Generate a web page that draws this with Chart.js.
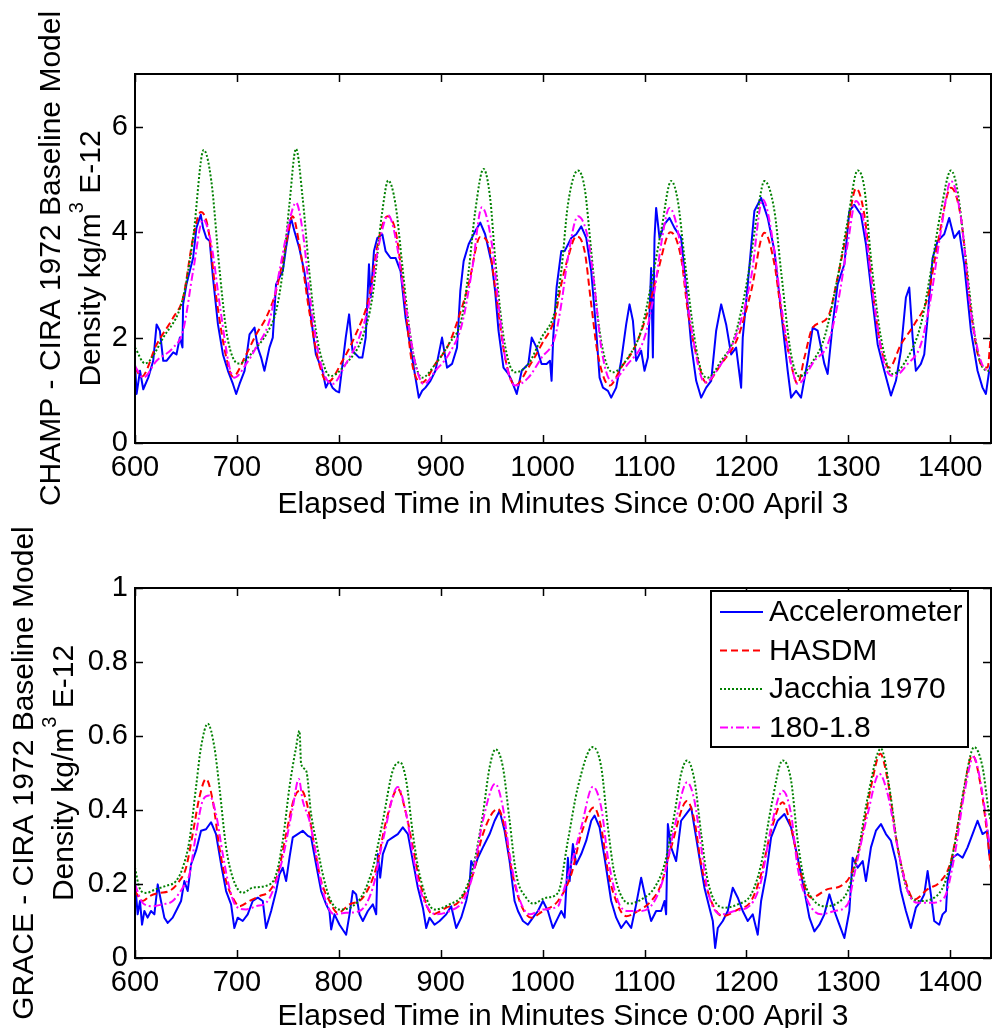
<!DOCTYPE html>
<html><head><meta charset="utf-8">
<script src="https://cdn.jsdelivr.net/npm/chart.js@4/dist/chart.umd.min.js"></script>
<style>
html,body{margin:0;padding:0;background:#fff;overflow:hidden;width:992px;height:1028px}
canvas{position:absolute;left:0}
#c1{top:0}
#c2{top:514px}
</style></head><body>
<canvas id="c1" width="992" height="540"></canvas>
<canvas id="c2" width="992" height="514"></canvas>
<script>
// ---------------- data (time in minutes, density) ----------------
const xTicks = [600, 700, 800, 900, 1000, 1100, 1200, 1300, 1400];
const champYTicks = [0, 2, 4, 6];
const graceYTicks = [0, 0.2, 0.4, 0.6, 0.8, 1];
const seriesLabels = ['Accelerometer', 'HASDM', 'Jacchia 1970', '180-1.8'];

const champAccelerometer = [[600,1.5],[601.6,0.93],[604.9,1.37],[608.1,1.02],[613,1.24],[617.9,1.56],[621.2,2.25],[624.4,2.13],[627.7,1.56],[630.9,1.56],[637.5,1.72],[640.7,1.68],[644,2.0],[646.6,1.81],[647.2,2.63],[650.5,3.01],[657,3.51],[660.3,4.08],[664.5,4.33],[666.8,4.08],[670,3.89],[673.3,3.83],[676.5,3.14],[681.4,2.25],[686.3,1.68],[691.2,1.37],[696.1,1.12],[699.3,0.93],[702.6,1.12],[707.5,1.37],[712.4,2.06],[717.3,2.19],[720.5,1.81],[723.8,1.62],[727,1.37],[731.9,1.81],[735.2,2.0],[738.4,3.01],[741.7,3.14],[745,3.26],[748.2,3.7],[753.1,4.27],[756.4,4.02],[761.2,3.7],[766.1,3.26],[771,2.63],[777.5,1.68],[784,1.37],[787.3,1.05],[790.6,1.18],[793.8,1.05],[797.1,0.99],[800.3,0.96],[806.8,2.0],[810.1,2.44],[813.4,1.75],[819.9,1.62],[823.1,1.62],[826.4,2.0],[829.6,3.39],[831.3,2.76],[834.5,3.64],[837.8,3.89],[842.7,3.96],[845.9,3.64],[850.8,3.51],[855.7,3.51],[860.6,3.26],[865.5,2.38],[870.4,1.81],[875.2,1.24],[878.5,0.86],[881.8,0.99],[885,1.05],[889.9,1.18],[894.8,1.37],[901.3,2.0],[906.2,1.43],[911.1,1.5],[916,1.81],[919.2,2.88],[922.5,3.45],[927.4,3.77],[933.9,4.02],[938.8,4.18],[943.6,3.96],[950.2,3.39],[953.4,2.88],[956.7,2.13],[961.6,1.43],[966.4,1.31],[969.7,1.18],[974.6,0.93],[979.5,1.37],[986,1.5],[989.3,2.0],[994.1,1.81],[999,1.5],[1003.9,1.5],[1007.2,1.56],[1008.8,1.18],[1010.4,2.0],[1013.7,2.95],[1018.3,3.64],[1021.6,3.64],[1028.1,3.89],[1033,3.96],[1037.9,4.11],[1042.8,3.89],[1047.7,3.26],[1052.6,2.13],[1055.9,1.24],[1059.2,1.05],[1064.1,0.99],[1067.3,0.86],[1072.2,1.05],[1077.1,1.56],[1082,2.25],[1085.3,2.63],[1088.6,2.32],[1091.8,1.56],[1096.7,1.75],[1100,1.37],[1103.3,1.62],[1106.5,3.32],[1108.2,1.62],[1109.8,3.89],[1111.4,4.46],[1114.7,3.89],[1119.6,4.15],[1124.5,4.27],[1129.4,4.08],[1135.9,3.89],[1140.8,2.95],[1145.8,1.87],[1150.7,1.18],[1155.6,0.86],[1160.5,1.05],[1165.4,1.18],[1170.3,2.13],[1175.2,2.63],[1180.1,2.25],[1185,1.68],[1189.9,1.81],[1194.8,1.05],[1196.4,2.0],[1201.3,3.01],[1207.8,4.4],[1214.4,4.65],[1220.9,4.27],[1227.5,3.64],[1234,2.5],[1240.5,1.37],[1243.8,0.86],[1248.7,0.99],[1253.6,0.86],[1260.1,1.56],[1265,2.19],[1269.9,2.13],[1276.5,1.5],[1279.7,1.31],[1284.6,2.25],[1289.5,3.01],[1296.1,3.39],[1301,4.4],[1305.9,4.52],[1312.4,4.33],[1317.3,3.77],[1322.2,2.95],[1328.8,1.87],[1335.3,1.37],[1341.8,0.9],[1346.7,1.18],[1351.6,1.75],[1356.5,2.76],[1359.8,2.95],[1363.1,2.0],[1366.3,1.37],[1371.2,1.5],[1374.5,1.68],[1377.8,2.38],[1382.7,3.51],[1387.6,3.83],[1394.1,3.96],[1399,4.27],[1403.9,3.89],[1408.8,4.02],[1413.7,3.39],[1420.3,2.13],[1426.8,1.37],[1431.7,1.05],[1435,0.93],[1438.2,1.37],[1440,1.5]];

const champHASDM = [[600,1.43],[606.5,1.26],[621.2,1.87],[637.5,2.38],[647.2,2.76],[657,3.89],[664.5,4.38],[671.7,4.08],[679.8,2.76],[689.6,1.62],[696.1,1.26],[709.1,1.68],[718.9,2.06],[728.7,2.38],[738.4,2.88],[748.2,3.77],[754.7,4.3],[761.2,3.77],[771,2.5],[780.8,1.5],[788.9,1.15],[803.6,1.56],[816.6,2.06],[829.6,2.76],[839.4,3.89],[847.6,4.3],[855.7,4.02],[862.2,3.14],[872,1.5],[881.8,1.15],[894.8,1.5],[907.8,1.87],[917.6,2.38],[927.4,3.01],[938.8,3.91],[946.9,3.77],[953.4,2.95],[963.2,1.62],[973,1.09],[986,1.43],[999,1.87],[1012,2.38],[1018.3,3.01],[1024.8,3.51],[1033,3.92],[1041.2,3.64],[1047.7,2.63],[1054.2,1.68],[1065.7,1.09],[1077.1,1.43],[1090.2,1.81],[1103.3,2.5],[1113.1,3.26],[1125.5,4.0],[1135.9,3.51],[1142.5,2.5],[1152.3,1.56],[1160.5,1.15],[1175.2,1.5],[1191.5,2.0],[1204.6,2.88],[1217.6,3.99],[1227.5,3.39],[1234,2.5],[1243.8,1.5],[1250.3,1.12],[1256.9,1.62],[1265,2.19],[1279.7,2.38],[1289.5,3.14],[1299.3,4.08],[1307.5,4.83],[1315.7,4.33],[1325.5,2.63],[1332,1.81],[1340.2,1.43],[1351.6,1.87],[1364.7,2.25],[1377.8,2.76],[1387.6,3.77],[1400.7,4.84],[1410.5,4.27],[1420.3,2.5],[1430,1.5],[1436.6,1.43],[1440,2.1]];

const champJacchia = [[600,1.81],[609.8,1.51],[627.7,2.0],[647.2,2.76],[657,3.89],[667.4,5.56],[674.9,4.97],[683.1,3.26],[689.6,2.13],[697.7,1.56],[702.6,1.51],[718.9,1.81],[728.7,2.06],[738.4,2.5],[745,3.26],[751.5,4.52],[758,5.58],[764.5,4.65],[771,3.26],[777.5,2.13],[787.3,1.37],[792.2,1.27],[806.8,1.5],[823.1,2.0],[832.9,2.76],[842.7,4.4],[848.5,4.98],[855.7,4.52],[862.2,3.39],[868.7,2.25],[875.2,1.5],[881.8,1.24],[894.8,1.5],[907.8,1.87],[920.8,2.38],[927.4,3.26],[933.9,4.4],[942,5.2],[948.5,4.65],[953.4,3.51],[960,2.25],[966.4,1.56],[973,1.34],[986,1.5],[999,2.0],[1012,2.5],[1018.3,3.26],[1024.8,4.52],[1034.6,5.17],[1041.2,4.84],[1047.7,3.64],[1054.2,2.38],[1060.8,1.62],[1069,1.34],[1083.7,1.62],[1096.7,2.13],[1106.5,3.01],[1116.3,4.02],[1126.1,4.97],[1132.7,4.59],[1139.2,3.51],[1149,2.0],[1155.6,1.37],[1162.1,1.24],[1175.2,1.56],[1188.2,2.0],[1201.3,3.14],[1211.1,4.4],[1217.6,4.97],[1227.5,4.4],[1234,3.26],[1243.8,1.68],[1252,1.26],[1263.4,1.5],[1276.5,2.0],[1289.5,3.14],[1299.3,4.21],[1309.2,5.17],[1315.7,4.84],[1322.2,3.51],[1332,2.0],[1343.5,1.31],[1358.2,1.62],[1371.2,2.25],[1381,3.26],[1390.8,4.4],[1400.7,5.17],[1407.2,4.78],[1413.7,3.77],[1423.5,2.13],[1430,1.5],[1438.2,1.37],[1440,1.38]];

const champModel180 = [[600,1.46],[608.1,1.24],[621.2,1.56],[637.5,1.81],[647.2,2.13],[657,3.26],[666.8,4.24],[674.9,3.77],[683.1,2.63],[692.8,1.43],[697.7,1.24],[709.1,1.5],[718.9,1.81],[731.9,2.32],[741.7,3.26],[751.5,4.21],[758,4.56],[764.5,4.02],[772.6,2.63],[782.4,1.5],[793.8,1.12],[806.8,1.5],[819.9,2.0],[829.6,2.63],[839.4,3.77],[848.5,4.32],[855.7,3.89],[865.5,2.63],[875.2,1.5],[883.4,1.12],[894.8,1.37],[907.8,1.68],[920.8,2.25],[930.6,3.26],[940.4,4.47],[950.2,3.77],[956.7,2.63],[963.2,1.62],[973,1.09],[986,1.24],[999,1.62],[1012,2.0],[1018.3,2.63],[1024.8,3.51],[1034.6,4.3],[1044.4,3.89],[1051,2.95],[1057.5,1.81],[1067.3,1.18],[1083.7,1.5],[1100,2.0],[1109.8,2.88],[1116.3,3.77],[1124.5,4.46],[1132.7,4.02],[1142.5,2.63],[1152.3,1.5],[1158.8,1.15],[1175.2,1.5],[1191.5,2.13],[1204.6,3.14],[1216,4.62],[1227.5,3.64],[1234,2.63],[1243.8,1.5],[1250.3,1.12],[1266.7,1.56],[1279.7,1.87],[1289.5,2.63],[1299.3,3.77],[1307.5,4.59],[1315.7,4.15],[1325.5,2.63],[1335.3,1.5],[1345.1,1.27],[1358.2,1.5],[1371.2,1.87],[1381,2.76],[1390.8,4.02],[1400.7,4.97],[1410.5,4.27],[1420.3,2.5],[1430,1.56],[1438.2,1.37],[1440,1.4]];

const graceAccelerometer = [[600,0.208],[602.6,0.118],[604.9,0.154],[606.9,0.09],[609.2,0.127],[612.4,0.109],[615.7,0.127],[619,0.118],[622.3,0.199],[625.5,0.154],[628.8,0.109],[632.1,0.095],[637,0.109],[641.9,0.136],[645.2,0.154],[648.4,0.208],[651.7,0.181],[655,0.253],[659.9,0.29],[664.8,0.344],[669.7,0.348],[674.6,0.367],[679.5,0.335],[684.5,0.253],[689.4,0.181],[694.3,0.145],[697.5,0.081],[700.8,0.109],[705.7,0.1],[710.6,0.118],[715.5,0.154],[720.5,0.163],[725.4,0.154],[728.6,0.081],[733.6,0.127],[738.5,0.181],[741.7,0.226],[745,0.244],[748.3,0.208],[751.6,0.271],[754.8,0.326],[759.7,0.335],[764.6,0.344],[769.6,0.33],[772.8,0.326],[777.7,0.253],[782.7,0.181],[787.6,0.145],[790.8,0.127],[792.5,0.077],[795.7,0.118],[800.7,0.09],[807.2,0.063],[810.5,0.118],[813.7,0.181],[817,0.172],[820.3,0.118],[823.6,0.1],[828.5,0.127],[833.4,0.145],[836.7,0.118],[838.3,0.281],[840.6,0.217],[843.2,0.281],[848.1,0.317],[853,0.326],[857.9,0.335],[862.8,0.353],[867.8,0.335],[872.7,0.262],[877.6,0.19],[882.5,0.136],[885.8,0.081],[889,0.109],[893.9,0.09],[898.9,0.1],[905.4,0.118],[910.3,0.14],[915.2,0.081],[920.1,0.109],[925,0.154],[928.3,0.199],[929.9,0.262],[933.2,0.244],[936.5,0.271],[941.4,0.299],[948,0.335],[952.9,0.371],[957.8,0.398],[962.7,0.344],[967.6,0.262],[972.5,0.154],[975.8,0.127],[980.7,0.1],[985.6,0.09],[990.5,0.109],[995.4,0.127],[1000.3,0.154],[1005.2,0.127],[1010.1,0.081],[1015.1,0.109],[1018.3,0.127],[1021.6,0.109],[1024.8,0.271],[1026.5,0.208],[1029.7,0.308],[1033,0.253],[1037.9,0.281],[1042.8,0.317],[1047.7,0.371],[1051,0.385],[1055.9,0.353],[1060.8,0.271],[1067.3,0.154],[1072.2,0.109],[1077.1,0.081],[1082,0.1],[1086.9,0.081],[1091.8,0.145],[1096.7,0.217],[1101.6,0.154],[1106.5,0.1],[1111.4,0.127],[1116.3,0.127],[1119.6,0.154],[1121.2,0.118],[1122.9,0.362],[1126.1,0.299],[1131,0.262],[1135.9,0.371],[1140.8,0.389],[1145.8,0.407],[1149,0.353],[1153.9,0.271],[1158.8,0.19],[1163.7,0.136],[1167,0.1],[1169.3,0.027],[1171.9,0.081],[1176.8,0.1],[1181.7,0.127],[1186.6,0.19],[1191.5,0.163],[1196.4,0.127],[1201.3,0.1],[1206.2,0.118],[1211.1,0.063],[1214.4,0.154],[1219.3,0.226],[1224.2,0.326],[1230.7,0.371],[1237.3,0.389],[1243.8,0.353],[1250.3,0.271],[1256.9,0.181],[1261.8,0.109],[1266.7,0.072],[1271.6,0.09],[1276.5,0.118],[1281.4,0.172],[1286.3,0.127],[1291.2,0.09],[1296.1,0.054],[1301,0.127],[1304.2,0.271],[1309.2,0.244],[1314.1,0.262],[1317.3,0.208],[1322.2,0.299],[1327.1,0.344],[1332,0.362],[1336.9,0.335],[1341.8,0.317],[1346.7,0.262],[1351.6,0.181],[1356.5,0.127],[1361.4,0.081],[1366.3,0.136],[1371.2,0.154],[1374.5,0.172],[1377.8,0.235],[1381,0.172],[1384.3,0.1],[1389.2,0.09],[1392.5,0.118],[1395.8,0.127],[1397.4,0.208],[1402.3,0.271],[1407.2,0.281],[1412.1,0.271],[1417,0.299],[1421.9,0.335],[1426.8,0.371],[1431.7,0.335],[1436.6,0.344],[1438.2,0.281],[1440,0.271]];

const graceHASDM = [[600,0.181],[607.5,0.154],[614.1,0.167],[623.9,0.176],[633.7,0.181],[643.5,0.208],[650.1,0.244],[656.6,0.335],[663.2,0.434],[669.7,0.484],[676.3,0.425],[682.8,0.299],[689.4,0.208],[695.9,0.163],[702.5,0.14],[712.3,0.154],[722.1,0.167],[731.9,0.181],[740.1,0.226],[748.3,0.335],[756.5,0.434],[763,0.454],[769.6,0.407],[776.1,0.299],[782.7,0.208],[790.8,0.154],[799,0.122],[810.5,0.145],[823.6,0.163],[836.7,0.244],[846.5,0.371],[857.9,0.457],[866.1,0.389],[872.7,0.299],[879.2,0.208],[892.3,0.118],[905.4,0.136],[918.5,0.154],[931.6,0.226],[941.4,0.335],[956.1,0.403],[962.7,0.353],[969.2,0.244],[977.4,0.154],[988.9,0.109],[1000.3,0.127],[1015.1,0.154],[1028.1,0.226],[1037.9,0.335],[1050.3,0.407],[1057.5,0.353],[1064.1,0.235],[1072.2,0.154],[1082,0.113],[1093.5,0.127],[1106.5,0.154],[1116.3,0.199],[1126.1,0.299],[1141.8,0.424],[1149,0.371],[1155.6,0.253],[1165.4,0.154],[1176.8,0.113],[1191.5,0.131],[1204.6,0.154],[1214.4,0.226],[1224.2,0.344],[1235.6,0.421],[1243.8,0.353],[1253.6,0.226],[1263.4,0.163],[1279.7,0.186],[1292.8,0.195],[1302.6,0.226],[1312.4,0.317],[1322.2,0.462],[1331.4,0.552],[1338.6,0.48],[1348.4,0.299],[1358.2,0.19],[1364.7,0.158],[1377.8,0.186],[1390.8,0.208],[1400.7,0.262],[1410.5,0.407],[1421.9,0.548],[1430.1,0.462],[1436.6,0.326],[1440,0.235]];

const graceJacchia = [[600,0.244],[604.3,0.19],[610.8,0.176],[620.6,0.186],[630.4,0.195],[640.3,0.208],[646.8,0.244],[653.4,0.317],[659.9,0.462],[664.8,0.57],[671.4,0.633],[677.9,0.57],[682.8,0.462],[689.4,0.299],[695.9,0.217],[705.7,0.176],[715.5,0.19],[728.6,0.195],[738.5,0.226],[745,0.317],[751.6,0.462],[758.1,0.57],[761.4,0.614],[763,0.525],[767.9,0.507],[772.8,0.389],[777.7,0.317],[784.3,0.226],[790.8,0.163],[800.7,0.131],[813.7,0.14],[823.6,0.172],[833.4,0.244],[843.2,0.371],[853,0.507],[860.2,0.529],[866.1,0.48],[872.7,0.335],[879.2,0.226],[893.9,0.131],[908.7,0.145],[921.8,0.172],[931.6,0.244],[941.4,0.389],[948,0.516],[953.8,0.564],[961,0.516],[967.6,0.371],[974.1,0.226],[983.9,0.163],[990.5,0.147],[1003.6,0.163],[1015.1,0.176],[1024.8,0.317],[1034.6,0.462],[1049.3,0.57],[1057.5,0.516],[1064.1,0.353],[1070.6,0.226],[1085.3,0.147],[1096.7,0.158],[1109.8,0.19],[1119.6,0.253],[1129.4,0.389],[1135.9,0.498],[1141.8,0.534],[1149,0.48],[1155.6,0.335],[1162.1,0.208],[1178.4,0.136],[1191.5,0.145],[1204.6,0.172],[1214.4,0.253],[1224.2,0.407],[1235.6,0.534],[1243.8,0.48],[1250.3,0.317],[1256.9,0.208],[1266.7,0.154],[1276.5,0.14],[1289.5,0.149],[1299.3,0.181],[1309.2,0.281],[1319,0.434],[1332,0.566],[1340.2,0.462],[1348.4,0.299],[1358.2,0.181],[1369.6,0.154],[1384.3,0.163],[1394.1,0.199],[1403.9,0.299],[1413.7,0.462],[1423.5,0.57],[1431.7,0.516],[1438.2,0.389],[1440,0.37]];

const graceModel180 = [[600,0.199],[607.5,0.149],[617.3,0.14],[627.2,0.145],[637,0.154],[646.8,0.19],[653.4,0.226],[659.9,0.335],[666.4,0.425],[673,0.439],[679.5,0.389],[686.1,0.281],[692.6,0.19],[699.2,0.14],[709,0.131],[718.8,0.14],[728.6,0.149],[735.2,0.181],[745,0.271],[754.8,0.407],[760.7,0.484],[764.6,0.425],[771.2,0.371],[777.7,0.281],[784.3,0.181],[795.7,0.118],[807.2,0.122],[820.3,0.127],[833.4,0.19],[843.2,0.317],[857.9,0.462],[866.1,0.389],[872.7,0.281],[879.2,0.19],[895.6,0.118],[908.7,0.127],[921.8,0.154],[931.6,0.226],[941.4,0.371],[953.5,0.471],[961,0.407],[967.6,0.281],[975.8,0.172],[987.2,0.118],[1000.3,0.131],[1015.1,0.14],[1018.3,0.163],[1028.1,0.253],[1037.9,0.353],[1049.3,0.463],[1057.5,0.407],[1064.1,0.271],[1073.9,0.154],[1083.7,0.127],[1096.7,0.127],[1109.8,0.154],[1119.6,0.226],[1129.4,0.353],[1141.8,0.475],[1149,0.425],[1155.6,0.299],[1162.1,0.181],[1175.2,0.118],[1188.2,0.127],[1204.6,0.145],[1214.4,0.208],[1224.2,0.353],[1235.6,0.452],[1243.8,0.389],[1250.3,0.244],[1260.1,0.154],[1273.2,0.118],[1286.3,0.127],[1299.3,0.145],[1305.9,0.226],[1319,0.389],[1330.4,0.498],[1338.6,0.443],[1348.4,0.299],[1358.2,0.181],[1368,0.149],[1381,0.149],[1394.1,0.163],[1403.9,0.271],[1413.7,0.443],[1422.9,0.543],[1431.7,0.443],[1438.2,0.317],[1440,0.3]];

// ---------------- styling ----------------
const FONT = '"Liberation Sans", Arial, Helvetica, sans-serif';
const styles = [
  {color:'#0000FF', dash:[], smooth:false, order:3},
  {color:'#FF0000', dash:[7,4], smooth:true, order:2},
  {color:'#008000', dash:[2,2], smooth:true, order:1},
  {color:'#FF00FF', dash:[8,3,2,3], smooth:true, order:0}
];

const matlabPlugin = {
  id: 'matlab',
  afterDatasetsDraw(chart, args, o) {
    const ctx = chart.ctx, a = chart.chartArea, xs = chart.scales.x, ys = chart.scales.y;
    ctx.save();
    ctx.setLineDash([]);
    ctx.strokeStyle = '#000';
    ctx.lineWidth = 1.5;
    const tl = 8;
    ctx.beginPath();
    xs.ticks.forEach(t => {
      const px = Math.round(xs.getPixelForValue(t.value)) + 0.5;
      ctx.moveTo(px, a.bottom); ctx.lineTo(px, a.bottom - tl);
      ctx.moveTo(px, a.top); ctx.lineTo(px, a.top + tl);
    });
    ys.ticks.forEach(t => {
      const py = Math.round(ys.getPixelForValue(t.value)) + 0.5;
      ctx.moveTo(a.left, py); ctx.lineTo(a.left + tl, py);
      ctx.moveTo(a.right, py); ctx.lineTo(a.right - tl, py);
    });
    ctx.stroke();
    ctx.lineWidth = 2;
    ctx.strokeRect(a.left, a.top, a.right - a.left, a.bottom - a.top);

    ctx.fillStyle = '#000';
    // x title
    ctx.font = '30px ' + FONT;
    ctx.textAlign = 'center';
    ctx.textBaseline = 'alphabetic';
    ctx.fillText(o.xTitle, (a.left + a.right) / 2, a.bottom + o.xTitleOffset);

    // y title (two lines, rotated)
    const cy = (a.top + a.bottom) / 2;
    ctx.save();
    ctx.translate(o.yTitleX1, cy); ctx.rotate(-Math.PI / 2);
    ctx.fillText(o.yTitle1, 0, 0);
    ctx.restore();
    const mainF = '30px ' + FONT, supF = '20px ' + FONT;
    ctx.font = mainF;
    const wA = ctx.measureText(o.yTitle2a).width, wC = ctx.measureText(o.yTitle2c).width;
    ctx.font = supF;
    const wB = ctx.measureText(o.yTitle2b).width;
    ctx.save();
    ctx.translate(o.yTitleX2, cy); ctx.rotate(-Math.PI / 2);
    ctx.textAlign = 'left';
    let sx = -(wA + wB + wC) / 2;
    ctx.font = mainF; ctx.fillText(o.yTitle2a, sx, 0); sx += wA;
    ctx.font = supF; ctx.fillText(o.yTitle2b, sx, -17); sx += wB;
    ctx.font = mainF; ctx.fillText(o.yTitle2c, sx, 0);
    ctx.restore();

    // legend
    if (o.legend) {
      const bw = 257, bh = 156;
      const bx = a.right - 23 - bw, by = a.top + 3;
      ctx.fillStyle = '#fff';
      ctx.fillRect(bx, by, bw, bh);
      ctx.strokeStyle = '#000'; ctx.lineWidth = 2;
      ctx.strokeRect(bx, by, bw, bh);
      const rows = [21, 59.5, 98, 136.5];
      chart.data.datasets.forEach((d, i) => {
        const yy = by + rows[i];
        ctx.strokeStyle = d.borderColor; ctx.lineWidth = 2;
        ctx.setLineDash(d.borderDash || []);
        ctx.beginPath(); ctx.moveTo(bx + 9, yy); ctx.lineTo(bx + 52, yy); ctx.stroke();
        ctx.setLineDash([]);
        ctx.fillStyle = '#000'; ctx.font = '30px ' + FONT;
        ctx.textAlign = 'left'; ctx.textBaseline = 'middle';
        ctx.fillText(d.label, bx + 58, yy + 1);
      });
    }
    ctx.restore();
  }
};

function makeChart(id, cfg) {
  const seriesData = cfg.series;
  return new Chart(document.getElementById(id), {
    type: 'line',
    data: {
      datasets: seriesData.map((s, i) => ({
        label: seriesLabels[i],
        data: s.map(p => ({x: p[0], y: p[1]})),
        borderColor: styles[i].color,
        borderWidth: 2,
        borderDash: styles[i].dash,
        borderJoinStyle: 'round',
        pointRadius: 0,
        fill: false,
        order: styles[i].order,
        cubicInterpolationMode: styles[i].smooth ? 'monotone' : 'default',
        tension: 0
      }))
    },
    options: {
      responsive: false, animation: false, devicePixelRatio: 1,
      layout: {padding: {top: 74, right: 1, left: 0, bottom: 0}},
      plugins: {legend: {display: false}, tooltip: {enabled: false}, matlab: cfg.matlab},
      scales: {
        x: {
          type: 'linear', min: 600, max: 1440,
          grid: {display: false, drawTicks: false}, border: {display: false},
          afterBuildTicks: s => { s.ticks = xTicks.map(v => ({value: v})); },
          afterFit: s => { s.height = cfg.xHeight; },
          ticks: {autoSkip: false, maxRotation: 0, minRotation: 0, padding: 8, color: '#000',
                  font: {size: 29, family: FONT}, callback: v => String(v)}
        },
        y: {
          type: 'linear', min: cfg.ymin, max: cfg.ymax,
          grid: {display: false, drawTicks: false}, border: {display: false},
          afterBuildTicks: s => { s.ticks = cfg.yTicks.map(v => ({value: v})); },
          afterFit: s => { s.width = 135; },
          ticks: {autoSkip: false, padding: 7, color: '#000',
                  font: {size: 29, family: FONT}, callback: v => String(v)}
        }
      }
    },
    plugins: [matlabPlugin]
  });
}

makeChart('c1', {
  series: [champAccelerometer, champHASDM, champJacchia, champModel180],
  ymin: 0, ymax: 7, yTicks: champYTicks, xHeight: 97,
  matlab: {xTitle: 'Elapsed Time in Minutes Since 0:00 April 3', xTitleOffset: 70,
           yTitle1: 'CHAMP - CIRA 1972 Baseline Model', yTitleX1: 60,
           yTitle2a: 'Density kg/m', yTitle2b: '3', yTitle2c: ' E-12', yTitleX2: 100, legend: false}
});
makeChart('c2', {
  series: [graceAccelerometer, graceHASDM, graceJacchia, graceModel180],
  ymin: 0, ymax: 1, yTicks: graceYTicks, xHeight: 70,
  matlab: {xTitle: 'Elapsed Time in Minutes Since 0:00 April 3', xTitleOffset: 67,
           yTitle1: 'GRACE - CIRA 1972 Baseline Model', yTitleX1: 33,
           yTitle2a: 'Density kg/m', yTitle2b: '3', yTitle2c: ' E-12', yTitleX2: 73, legend: true}
});
</script>
</body></html>
